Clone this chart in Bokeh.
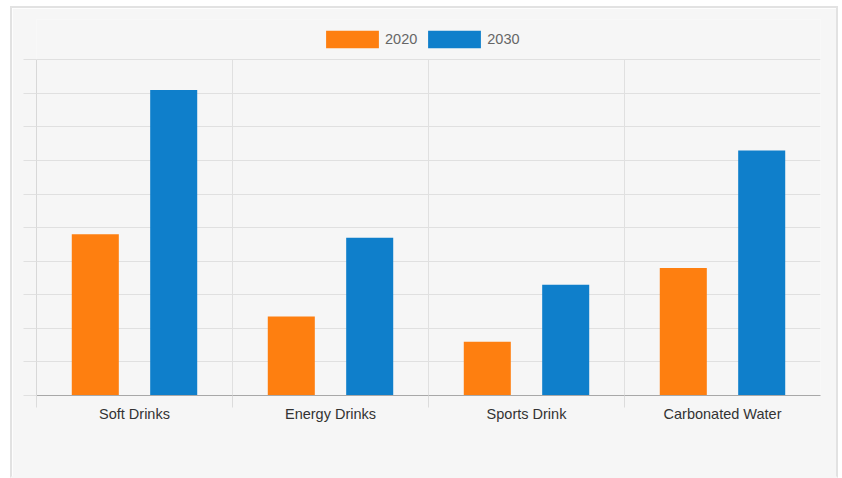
from bokeh.plotting import figure
from bokeh.models import (FixedTicker, Legend, LegendItem, ColumnDataSource, Range1d,
                          CustomJSTickFormatter)
from bokeh.transform import dodge
from bokeh.embed import file_html
from bokeh.resources import INLINE

categories = ["Soft Drinks", "Energy Drinks", "Sports Drink", "Carbonated Water"]
series_names = ["2020", "2030"]
values_2020 = [48, 23.5, 16, 38]
values_2030 = [91, 47, 33, 73]
y_ticks = list(range(0, 101, 10))
colors = ["#fe7f10", "#0f7fcb"]

FONT = "Liberation Sans"
Y_TOP = 112  # headroom above the last gridline, holds the legend

src = ColumnDataSource(dict(
    x=[i + 0.5 for i in range(len(categories))],
    v2020=values_2020,
    v2030=values_2030,
))

p = figure(width=828, height=472, output_backend="svg", toolbar_location=None,
           x_range=Range1d(0, len(categories)), y_range=Range1d(0, Y_TOP),
           min_border_left=24, min_border_right=20, min_border_top=11,
           min_border_bottom=85)
p.margin = (6, 0, 0, 10)
p.styles = {"border": "2px solid #e2e2e2", "border-bottom-color": "#f6f6f6"}
p.border_fill_color = "#f6f6f6"
p.background_fill_color = "#f6f6f6"
p.outline_line_color = None

# category separators (between categories), up to the top gridline
sep = ColumnDataSource(dict(
    x=list(range(1, len(categories))),
    y0=[y_ticks[0]] * (len(categories) - 1),
    y1=[y_ticks[-1]] * (len(categories) - 1),
))
p.segment(x0="x", y0="y0", x1="x", y1="y1", source=sep,
          line_color="#e0e0e0", line_width=1, level="underlay")

r1 = p.vbar(x=dodge("x", -0.2), top="v2020", width=0.24, source=src,
            fill_color=colors[0], line_color=None)
r2 = p.vbar(x=dodge("x", 0.2), top="v2030", width=0.24, source=src,
            fill_color=colors[1], line_color=None)

# x axis
xa = p.xaxis[0]
xa.ticker = FixedTicker(ticks=[i + 0.5 for i in range(len(categories))],
                        minor_ticks=list(range(len(categories))))
xa.formatter = CustomJSTickFormatter(args=dict(labels=categories),
                                     code="return labels[Math.floor(tick)];")
xa.major_tick_line_color = None
xa.major_tick_out = 0
xa.major_tick_in = 0
xa.minor_tick_out = 12
xa.minor_tick_in = 0
xa.minor_tick_line_color = "#dcdcdc"
xa.axis_line_color = "#a8a8a8"
xa.major_label_text_font = FONT
xa.major_label_text_font_size = "14.5px"
xa.major_label_text_color = "#333333"
xa.major_label_standoff = -2

# y axis
ya = p.yaxis[0]
ya.bounds = (y_ticks[0], y_ticks[-1])
ya.ticker = FixedTicker(ticks=y_ticks)
ya.major_label_text_alpha = 0
ya.major_label_text_font_size = "1px"
ya.major_label_standoff = 0
ya.major_tick_out = 13
ya.major_tick_in = 0
ya.major_tick_line_color = "#e0e0e0"
ya.minor_tick_line_color = None
ya.axis_line_color = "#d8d8d8"

p.xgrid.grid_line_color = None
p.ygrid.ticker = FixedTicker(ticks=y_ticks)
p.ygrid.grid_line_color = "#e0e0e0"

legend = Legend(items=[LegendItem(label=series_names[0], renderers=[r1]),
                       LegendItem(label=series_names[1], renderers=[r2])],
                orientation="horizontal", location=(283, 345),
                glyph_width=66, glyph_height=22, label_standoff=0, spacing=4,
                padding=0, margin=0, border_line_color=None,
                background_fill_alpha=0,
                label_text_font=FONT, label_text_font_size="14.5px",
                label_text_color="#666666")
p.add_layout(legend, "center")

open("out.html", "w").write(file_html(p, INLINE))
